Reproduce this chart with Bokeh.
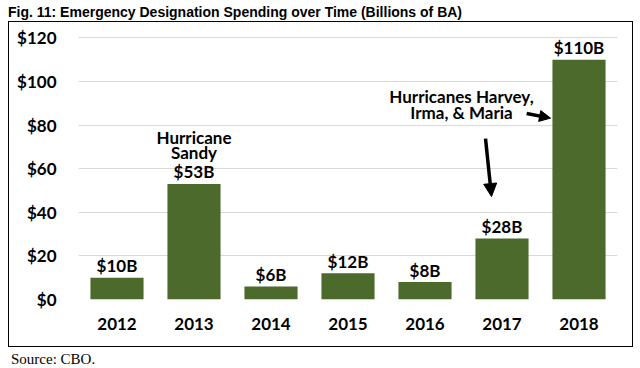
from bokeh.plotting import figure
from bokeh.models import ColumnDataSource, FixedTicker, PrintfTickFormatter, Arrow, NormalHead, Div
from bokeh.layouts import column
from bokeh.core.properties import value
from bokeh.embed import file_html
from bokeh.resources import INLINE

# ---- data ----
years = ["2012", "2013", "2014", "2015", "2016", "2017", "2018"]
spending = [10, 53, 6, 12, 8, 28, 110]
value_labels = ["$10B", "$53B", "$6B", "$12B", "$8B", "$28B", "$110B"]
y_ticks = [0, 20, 40, 60, 80, 100, 120]

title_text = "Fig. 11: Emergency Designation Spending over Time (Billions of BA)"
source_text = "Source: CBO."
sandy_lines = ["Hurricane", "Sandy"]
harvey_lines = ["Hurricanes Harvey,", "Irma, & Maria"]

BAR = "#4B6A2C"
FONT = value("Lato")

src = ColumnDataSource(dict(year=years, spend=spending, label=value_labels))

p = figure(x_range=years, y_range=(0, 122), width=623, height=324,
           output_backend="svg", toolbar_location=None,
           min_border_left=69, min_border_right=15,
           min_border_top=11, min_border_bottom=47,
           margin=(1, 0, 0, 9))

p.vbar(x="year", top="spend", width=0.69, source=src,
       fill_color=BAR, line_color=None)

p.text(x="year", y="spend", text="label", source=src,
       text_align="center", text_baseline="alphabetic", y_offset=-12,
       text_font=FONT, text_font_style="bold", text_font_size="17px",
       text_color="black")

# annotations (x in category units, 2013 centre = 1.5)
p.text(x=[1.5, 1.5], y=[71.5, 64.8], text=sandy_lines,
       text_align="center", text_baseline="alphabetic", y_offset=-6,
       text_font=FONT, text_font_style="bold", text_font_size="17px",
       text_color="black")
p.text(x=[4.974, 4.974], y=[89.8, 82.5], text=harvey_lines,
       text_align="center", text_baseline="alphabetic", y_offset=-7,
       text_font=FONT, text_font_style="bold", text_font_size="17px",
       text_color="black")

p.add_layout(Arrow(end=NormalHead(size=11, fill_color="black", line_color="black"),
                   x_start=5.82, y_start=85.3, x_end=6.13, y_end=83.2,
                   line_width=3.5, line_color="black"))
p.add_layout(Arrow(end=NormalHead(size=13, fill_color="black", line_color="black"),
                   x_start=5.286, y_start=73.8, x_end=5.364, y_end=47.2,
                   line_width=3.5, line_color="black"))

# axes
p.yaxis.ticker = FixedTicker(ticks=y_ticks)
p.yaxis.formatter = PrintfTickFormatter(format="$%d")
for ax in (p.xaxis, p.yaxis):
    ax.axis_line_color = None
    ax.major_tick_line_color = None
    ax.minor_tick_line_color = None
    ax.major_label_text_font = "Lato"
    ax.major_label_text_font_style = "bold"
    ax.major_label_text_font_size = "17px"
    ax.major_label_text_color = "black"
p.yaxis.major_label_standoff = 16
p.xaxis.major_label_standoff = 12

p.xgrid.grid_line_color = None
p.ygrid.ticker = FixedTicker(ticks=y_ticks)
p.ygrid.grid_line_color = "#d9d9d9"
p.ygrid.grid_line_width = 1
p.outline_line_color = None

title = Div(text='<div style="font-family:\'Liberation Sans\',Arial;font-weight:bold;'
                 'font-size:14px;line-height:14px;position:relative;top:-3px;'
                 'white-space:nowrap;color:#000">' + title_text + '</div>',
            width=625, height=13, margin=(8, 0, 0, 8))
source = Div(text='<div style="position:relative;width:0;height:0">'
                  '<div style="position:absolute;left:0;bottom:-1px;width:625px;height:326px;'
                  'box-sizing:border-box;border:1px solid #000;pointer-events:none"></div></div>'
                  '<div style="font-family:\'Liberation Serif\',serif;font-size:15px;'
                  'line-height:15px;position:relative;top:6px;left:3px;'
                  'white-space:nowrap;color:#000">' + source_text + '</div>',
             width=625, height=12, margin=(0, 0, 0, 8))

layout = column(title, p, source, spacing=0)

open("out.html", "w").write(file_html(layout, INLINE))
